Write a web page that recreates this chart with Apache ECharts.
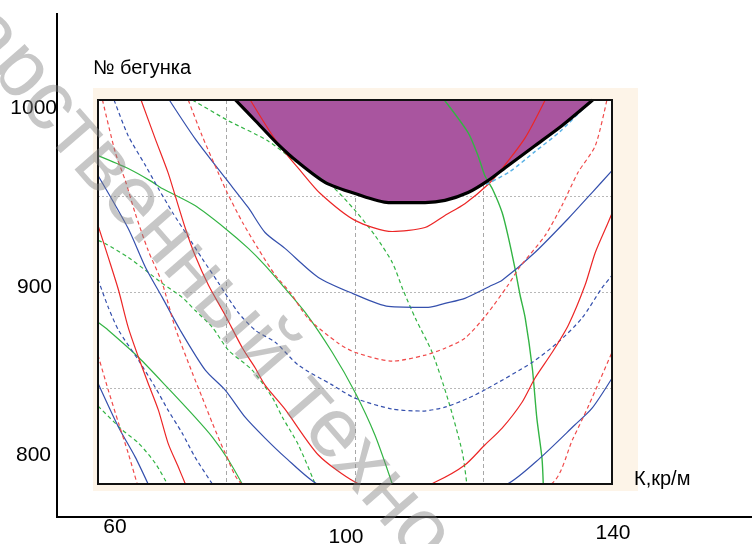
<!DOCTYPE html>
<html><head><meta charset="utf-8">
<script src="https://cdn.jsdelivr.net/npm/echarts@6/dist/echarts.min.js"></script>
<style>html,body{margin:0;padding:0;background:#fff}#c{width:752px;height:544px}</style>
</head><body><div id="c"></div>
<script>
// ---- text ----
const xTickLabels = ['60', '100', '140'];
const yTickLabels = ['1000', '900', '800'];
const yAxisName = '№ бегунка';
const xAxisName = 'К,кр/м';
const watermarkText = 'Государственный технологический университет';

// ---- axis ranges (inner plot) ----
const xRange = [60, 140];
const yRange = [800, 1000];

// ---- boundary of the shaded (purple) region ----
const boundary = [[81.4,1000],[84.5,989.2],[87.9,977.3],[91.2,967.4],[95.4,957.0],[100.0,951.3],[105.2,946.6],[110.9,946.6],[114.0,947.7],[117.6,951.8],[120.7,958.0],[123.8,965.8],[128.0,976.2],[132.2,986.6],[137.0,1000]];
const lightBlueDashed = [[120.4,956.0],[124.1,962.7],[128.0,973.1],[131.9,983.5],[135.8,996.5],[136.6,999.5]];

// ---- red solid curves ----
const redSolid1 = [[83.7,1000],[87.9,977.8],[91.5,963.2],[94.6,951.3],[100.0,937.3],[105.8,931.5],[110.9,933.6],[114.0,939.9],[117.1,946.0],[120.7,956.0],[122.9,964.3],[126.5,980.4],[129.6,1000]];
const redSolid2 = [[66.7,1000],[68.9,979.9],[70.9,962.2],[72.0,950.3],[73.6,933.1],[75.1,919.1],[77.2,903.5],[79.8,887.9],[82.5,870.7],[84.5,860.3],[86.0,851.5],[89.1,839.0],[94.3,815.1],[100.0,801.0],[106.5,793],[112.5,801.0],[117.1,809.9],[120.2,820.3],[122.9,829.1],[126.0,842.6],[128.0,855.1],[130.7,868.6],[133.2,882.7],[135.8,903.5],[137.4,920.6],[139.4,936.2],[140,941]];
const redSolid3 = [[60,934.7],[61.6,918.0],[63.2,900.9],[64.7,881.6],[66.3,866.0],[67.8,852.5],[69.4,838.5],[70.9,821.3],[72.5,808.8],[73.6,800]];

// ---- red dashed curves ----
const redDashed1 = [[74.05,1000],[76.2,981.4],[78.7,962.2],[80.1,951.8],[82.5,936.2],[84.9,922.7],[87.6,908.7],[89.9,899.8],[92.7,886.3],[97.4,873.3],[100.0,868.6],[105.8,864.0],[110.9,867.1],[114.0,870.7],[117.1,875.9],[120.4,887.9],[123.8,903.5],[125.6,912.8],[129.6,929.5],[132.2,945.0],[134.7,962.2],[137.4,976.2],[139.2,1000]];
const redDashed2 = [[60.7,1000],[62.7,972.6],[64.25,958.0],[65.8,940.9],[67.8,921.7],[70.0,904.5],[72.0,881.6],[74.7,857.7],[76.2,845.2],[77.8,831.7],[79.8,816.1],[82.45,800],[105,770],[130.5,800],[133.9,823.4],[136.4,841.1],[140,868.6]];
const redDashed3 = [[60,867.1],[61.6,848.9],[63.2,831.7],[64.7,816.1],[66.1,800]];

// ---- blue solid curves ----
const blueSolid1 = [[71.1,1000],[75.1,979.9],[79.8,959.4],[83.4,943.9],[86.0,931.0],[89.1,922.7],[94.3,907.6],[99.6,899.3],[105.2,892.5],[111.4,892.0],[114.0,894.1],[117.1,896.7],[121.3,903.5],[122.9,906.1],[128.0,920.6],[133.2,938.3],[136.9,951.8],[140,963.2]];
const blueSolid2 = [[60,960.7],[64.7,933.1],[67.4,912.8],[70.0,897.2],[72.8,880.1],[76.7,859.3],[79.8,848.9],[82.9,834.8],[86.0,823.9],[89.1,814.0],[94.1,800],[108,780],[123.7,800],[128.8,813.5],[134.2,830.7],[136.9,839.5],[140,855.1]];
const blueSolid3 = [[60,852.5],[63.2,829.6],[65.8,814.0],[67.8,800]];

// ---- blue dashed curves ----
const blueDashed1 = [[62.5,1000],[64.7,981.4],[67.4,965.8],[69.4,953.9],[71.6,941.4],[73.9,929.5],[76.2,917.5],[78.7,905.0],[81.8,889.4],[84.5,880.0],[87.6,873.8],[91.2,861.9],[96.5,851.5],[100.0,844.7],[105.8,839.0],[110.5,838.0],[114.0,840.0],[117.6,844.7],[120.7,849.9],[127.6,863.4],[131.6,873.8],[135.3,886.3],[138.4,901.9],[140,908.7]];
const blueDashed2 = [[60,906.6],[61.6,892.0],[63.2,880.1],[66.3,864.5],[68.9,850.4],[70.9,838.5],[73.1,826.5],[75.1,814.0],[77.8,800]];

// ---- green solid curves ----
const greenSolid1 = [[113.9,1000],[117.6,983.0],[119.15,971.0],[120.2,960.7],[121.5,952.9],[122.9,941.4],[123.8,929.5],[124.9,912.3],[125.7,898.3],[126.5,886.3],[127.6,860.3],[128.3,834.3],[129.1,813.5],[129.3,800]];
const greenSolid2 = [[60,971.0],[64.7,964.3],[68.1,958.0],[70.0,953.9],[75.1,945.0],[79.8,933.1],[83.4,922.7],[86.0,913.9],[88.7,903.5],[92.25,889.4],[96.45,868.6],[100.0,847.8],[103.1,825.5],[105.8,800]];
const greenSolid3 = [[60,884.2],[61.6,880.1],[66.3,866.0],[70.9,849.9],[75.1,834.8],[77.8,824.4],[80.3,812.5],[82.45,800]];

// ---- green dashed curves ----
const greenDashed1 = [[74.7,1000],[80.3,989.2],[86.3,979.0],[91.2,966.9],[96.45,955.0],[100.0,942.5],[103.1,929.5],[105.8,915.4],[107.5,900.9],[109.4,886.3],[112.0,868.6],[114.5,843.7],[116.7,816.6],[117.4,800]];
const greenDashed2 = [[60,926.9],[61.1,925.3],[64.7,918.0],[67.4,911.3],[70.0,904.5],[73.1,897.2],[75.1,890.5],[77.8,881.6],[80.3,869.7],[84.0,859.3],[87.1,845.2],[88.7,834.8],[91.2,820.3],[93.8,800]];
const greenDashed3 = [[60,840.6],[63.8,828.1],[66.3,821.3],[68.9,810.9],[70.8,800]];

// ---- styling ----
const RED = '#ec2626', RED_D = '#f04a4a', BLUE = '#3550ad', GREEN = '#33b444', LBLUE = '#5ab2e6';
const FONT = '"Liberation Sans", Arial, sans-serif';

function curve(data, color, dashed, width) {
  return {
    type: 'line', data: data, showSymbol: false, symbol: 'none', smooth: 0.25,
    silent: true, z: 3,
    lineStyle: { color: color, width: width || 1.2, type: dashed ? [4, 3] : 'solid' }
  };
}

const G = { left: 98, top: 100, width: 514, height: 384 };

const series = [
  { type: 'line', data: boundary, showSymbol: false, symbol: 'none', smooth: 0.25, silent: true, z: 1,
    lineStyle: { width: 0, color: '#a9559f' }, areaStyle: { origin: 'end', color: '#a9559f', opacity: 1 } },
  curve(greenDashed1, GREEN, true), curve(greenDashed2, GREEN, true), curve(greenDashed3, GREEN, true),
  curve(greenSolid1, GREEN, false, 1.4), curve(greenSolid2, GREEN, false), curve(greenSolid3, GREEN, false),
  curve(blueDashed1, BLUE, true), curve(blueDashed2, BLUE, true),
  curve(blueSolid1, BLUE, false), curve(blueSolid2, BLUE, false), curve(blueSolid3, BLUE, false),
  curve(redDashed1, RED_D, true), curve(redDashed2, RED_D, true), curve(redDashed3, RED_D, true),
  curve(redSolid1, RED, false), curve(redSolid2, RED, false), curve(redSolid3, RED, false),
  curve(lightBlueDashed, LBLUE, true, 1.5),
  { type: 'line', data: boundary, showSymbol: false, symbol: 'none', smooth: 0.25, silent: true, z: 5,
    lineStyle: { color: '#000', width: 3.2 } }
];

// watermark placement along a diagonal
const wmAngle = 49 * Math.PI / 180;

const graphics = [
  { type: 'rect', z: -10, shape: { x: 93, y: 88, width: 545, height: 403 }, style: { fill: '#fdf4e8' }, silent: true },
  { type: 'rect', z: -9, shape: { x: G.left, y: G.top, width: G.width, height: G.height }, style: { fill: '#ffffff' }, silent: true },
  { type: 'rect', z: 50, shape: { x: G.left, y: G.top, width: G.width, height: G.height }, style: { fill: null, stroke: '#111', lineWidth: 2 }, silent: true },
  { type: 'line', z: 50, shape: { x1: 57, y1: 13, x2: 57, y2: 518 }, style: { stroke: '#000', lineWidth: 2 } },
  { type: 'line', z: 50, shape: { x1: 56, y1: 517, x2: 752, y2: 517 }, style: { stroke: '#000', lineWidth: 2 } },
  { type: 'text', z: 50, x: 57, y: 108, style: { text: yTickLabels[0], font: '21px ' + FONT, fill: '#000', textAlign: 'right', textVerticalAlign: 'middle' } },
  { type: 'text', z: 50, x: 52, y: 287, style: { text: yTickLabels[1], font: '21px ' + FONT, fill: '#000', textAlign: 'right', textVerticalAlign: 'middle' } },
  { type: 'text', z: 50, x: 51, y: 455, style: { text: yTickLabels[2], font: '21px ' + FONT, fill: '#000', textAlign: 'right', textVerticalAlign: 'middle' } },
  { type: 'text', z: 50, x: 115, y: 527, style: { text: xTickLabels[0], font: '21px ' + FONT, fill: '#000', textAlign: 'center', textVerticalAlign: 'middle' } },
  { type: 'text', z: 50, x: 346, y: 537, style: { text: xTickLabels[1], font: '21px ' + FONT, fill: '#000', textAlign: 'center', textVerticalAlign: 'middle' } },
  { type: 'text', z: 50, x: 613, y: 533, style: { text: xTickLabels[2], font: '21px ' + FONT, fill: '#000', textAlign: 'center', textVerticalAlign: 'middle' } },
  { type: 'text', z: 50, x: 93, y: 68, style: { text: yAxisName, font: '20px ' + FONT, fill: '#000', textAlign: 'left', textVerticalAlign: 'middle' } },
  { type: 'text', z: 50, x: 634, y: 479, style: { text: xAxisName, font: '20px ' + FONT, fill: '#000', textAlign: 'left', textVerticalAlign: 'middle' } },
  { type: 'text', z: 60, x: -168, y: -145, rotation: -wmAngle,
    style: { text: watermarkText, font: '84px ' + FONT, fill: 'rgba(130,130,130,0.45)', textAlign: 'left', textVerticalAlign: 'middle' }, silent: true }
];

const chart = echarts.init(document.getElementById('c'), null, { renderer: 'canvas' });
chart.setOption({
  animation: false,
  backgroundColor: '#ffffff',
  grid: { left: G.left, top: G.top, width: G.width, height: G.height, show: false, containLabel: false },
  xAxis: { type: 'value', min: xRange[0], max: xRange[1], interval: 20,
    axisLine: { show: false }, axisTick: { show: false }, axisLabel: { show: false },
    splitLine: { show: true, lineStyle: { color: '#a8a8a8', type: [4, 3], width: 1 } } },
  yAxis: { type: 'value', min: yRange[0], max: yRange[1], interval: 50,
    axisLine: { show: false }, axisTick: { show: false }, axisLabel: { show: false },
    splitLine: { show: true, lineStyle: { color: '#b8b8b8', type: [2, 2], width: 1 } } },
  series: series,
  graphic: { elements: graphics }
});
</script>
</body></html>
